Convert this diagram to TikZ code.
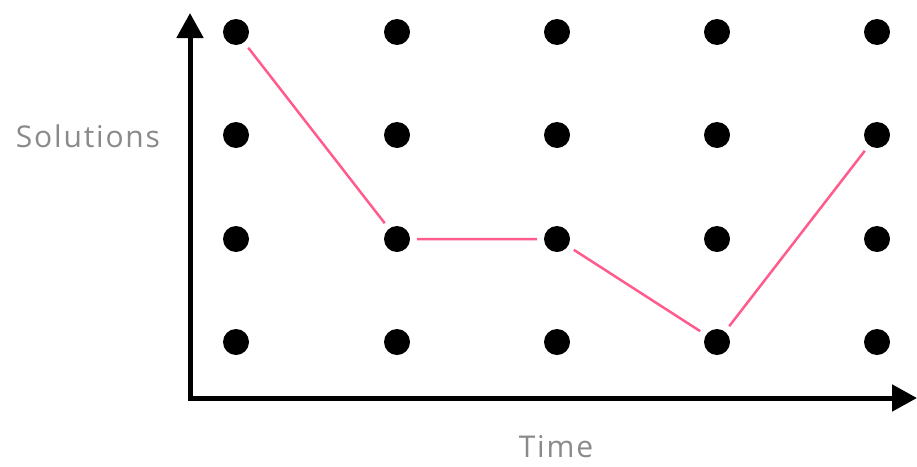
\documentclass[tikz,border=0pt]{standalone}
\usepackage{fontspec}
\setmainfont[LetterSpace=6]{Open Sans}
\usetikzlibrary{arrows.meta}
\definecolor{pathpink}{HTML}{FF5C8D}
\definecolor{labelgray}{HTML}{8A8A8A}

\begin{document}
\begin{tikzpicture}[x=1pt, y=-1pt, >={Triangle[width=26pt,length=25pt]},
    dot/.style={circle, fill=black, minimum size=26pt, inner sep=0pt, outer sep=7pt},
    axis/.style={line width=5pt, line join=miter},
    route/.style={pathpink, line width=2.5pt},
    axislabel/.style={labelgray, inner sep=0pt, anchor=base, font=\fontsize{30}{36}\selectfont}]
    \useasboundingbox (0,0) rectangle (917,466);

    % Coordinates
    \coordinate (Origin) at (190,398);
    \coordinate (YTop) at (190,13);
    \coordinate (XEnd) at (917,398);

    % Axes
    \draw[axis, <->] (YTop) -- (Origin) -- (XEnd);

    % Grid of solutions over time
    \foreach \c/\x in {1/236,2/397,3/557,4/717,5/877}
        \foreach \r/\y in {1/32,2/135,3/239,4/342}
            \node[dot] (d\c\r) at (\x,\y) {};

    % Chosen path
    \draw[route] (d11) -- (d23) -- (d33) -- (d44) -- (d52);

    % Labels
    \node[axislabel] (ylabel) at (88,147) {Solutions};
    \node[axislabel] (xlabel) at (556,457) {Time};
\end{tikzpicture}
\end{document}
